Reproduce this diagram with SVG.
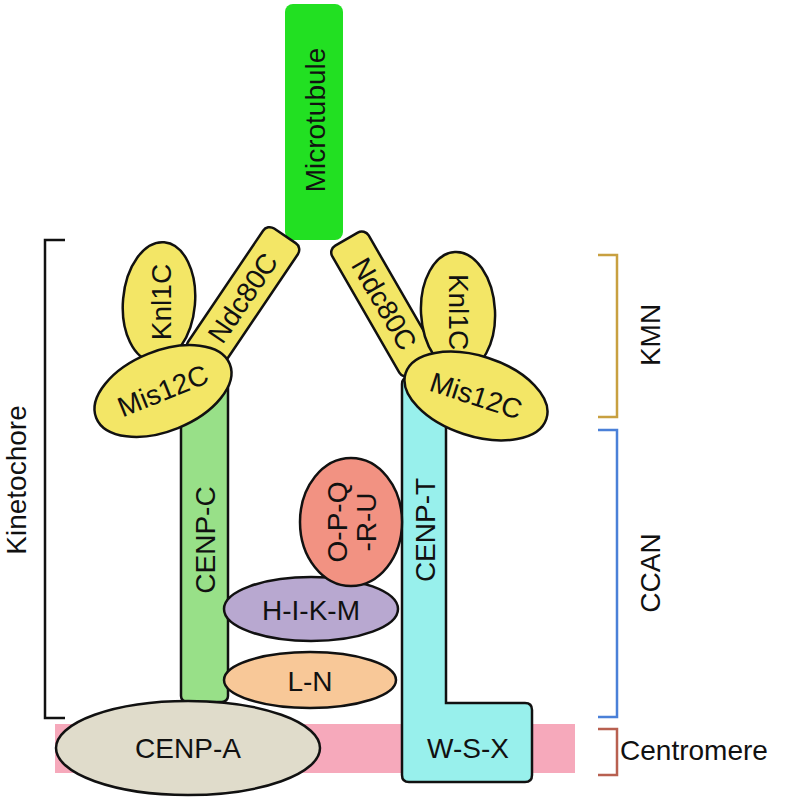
<svg xmlns="http://www.w3.org/2000/svg" width="800" height="799" viewBox="0 0 800 799">
<style>
text{font-family:"Liberation Sans",Arial,sans-serif;font-size:28px;fill:#111;text-anchor:middle;dominant-baseline:central}
.s{stroke:#111;stroke-width:2.5}
.br{fill:none;stroke-width:2.5}
</style>
<rect width="800" height="799" fill="#fff"/>
<g id="connectors">
<path class="br" stroke="#111" d="M65,240 H45 V718 H65"/>
<path class="br" stroke="#c8a040" d="M598,255 H617 V417 H598"/>
<path class="br" stroke="#4a80d8" d="M598,430 H617 V717 H598"/>
<path class="br" stroke="#b86050" d="M598,729 H617 V775 H598"/>
</g>
<g id="labels">
<text transform="translate(16,480) rotate(-90)">Kinetochore</text>
<text transform="translate(650,335) rotate(-90)">KMN</text>
<text transform="translate(650,573) rotate(-90)">CCAN</text>
<text x="694" y="750" font-size="26">Centromere</text>
</g>
<g id="centromere"><rect x="55" y="724" width="520" height="49" fill="#f6a9bb"/></g>
<g id="microtubule"><rect x="285" y="4" width="58" height="236" rx="8" fill="#22e022"/>
<text transform="translate(315,120) rotate(-90)">Microtubule</text></g>
<g id="cenpc"><rect class="s" x="181" y="372" width="47" height="330" rx="6" fill="#98e088"/>
<text transform="translate(205,540) rotate(-90)">CENP-C</text></g>
<g id="cenpt"><path class="s" fill="#98f0ec" d="M408,378 H446 V703 H525 Q532,703 532,710 V775 Q532,782 525,782 H409 Q402,782 402,775 V384 Q402,378 408,378 Z"/>
<text transform="translate(425,530) rotate(-90)">CENP-T</text>
<text x="468" y="748">W-S-X</text></g>
<g id="cenpa"><ellipse class="s" cx="188" cy="748" rx="132" ry="47" fill="#e0dccb"/><text x="188" y="748">CENP-A</text></g>
<g id="ln"><ellipse class="s" cx="310" cy="680" rx="86" ry="28" fill="#f8c898"/><text x="310" y="681">L-N</text></g>
<g id="hikm"><ellipse class="s" cx="311" cy="609" rx="87" ry="32" fill="#b8a8d0"/><text x="311" y="610">H-I-K-M</text></g>
<g id="opqru"><ellipse class="s" cx="351" cy="522" rx="51" ry="64" fill="#f29282"/>
<text transform="translate(351,522) rotate(-90)"><tspan x="0" y="-14">O-P-Q</tspan><tspan x="0" y="15">-R-U</tspan></text></g>
<g id="ndc80l"><g transform="translate(243,298) rotate(-56)"><rect class="s" x="-75" y="-21" width="150" height="42" rx="8" fill="#f3e666"/><text x="0" y="0">Ndc80C</text></g></g>
<g id="ndc80r"><g transform="translate(384,304) rotate(60)"><rect class="s" x="-75" y="-21" width="150" height="42" rx="8" fill="#f3e666"/><text x="0" y="0">Ndc80C</text></g></g>
<g id="knl1l"><ellipse class="s" cx="159" cy="302" rx="36" ry="60" fill="#f3e666" transform="rotate(5 159 302)"/><text transform="translate(161,302) rotate(-90)">Knl1C</text></g>
<g id="knl1r"><ellipse class="s" cx="458" cy="312" rx="37" ry="60" fill="#f3e666" transform="rotate(-3 458 312)"/><text transform="translate(458,312) rotate(90)">Knl1C</text></g>
<g id="mis12l"><ellipse class="s" cx="163" cy="391" rx="72" ry="40" fill="#f3e666" transform="rotate(-22 163 391)"/><text transform="translate(163,391) rotate(-22)">Mis12C</text></g>
<g id="mis12r"><ellipse class="s" cx="476" cy="396" rx="74" ry="40" fill="#f3e666" transform="rotate(18 476 396)"/><text transform="translate(476,396) rotate(18)">Mis12C</text></g>
</svg>
